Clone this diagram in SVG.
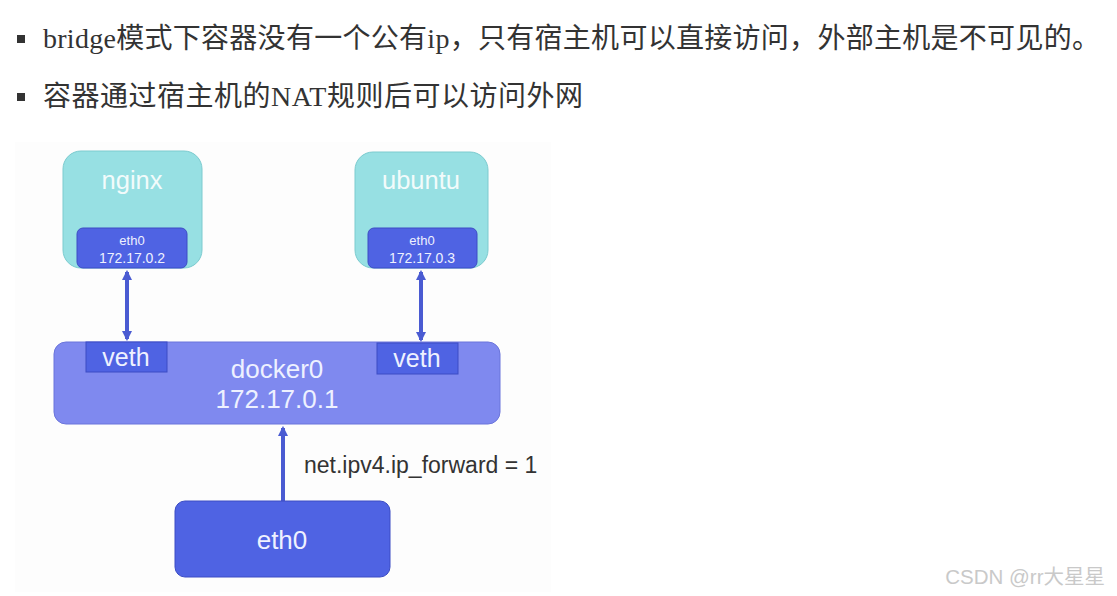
<svg xmlns="http://www.w3.org/2000/svg" width="1117" height="596" viewBox="0 0 1117 596">
<style>
.body{font-family:"Liberation Serif","Noto Sans CJK SC",serif;font-size:28px;fill:#333333}
.sans{font-family:"Liberation Sans",Arial,sans-serif}
.wt{fill:#f2fbfb}
.lab{fill:#eef1ff}
.blue{fill:#4f63e3;stroke:#3c4dc4;stroke-width:1}
.conn{stroke:#4a5bd2;stroke-width:4;fill:none}
</style>
<defs>
<marker id="ah" viewBox="0 0 10 10" refX="8" refY="5" markerWidth="2.6" markerHeight="2.6" orient="auto-start-reverse">
<path d="M0,0 L10,5 L0,10 z" fill="#4a5bd2"/>
</marker>
</defs>
<rect width="1117" height="596" fill="#ffffff"/>
<rect x="15" y="142" width="536" height="450" fill="#fdfdfd"/>
<g id="bullets">
<rect x="17" y="35" width="8" height="8" fill="#333333"/>
<rect x="17" y="93" width="8" height="8" fill="#333333"/>
<text class="body" x="43" y="48" textLength="1057">bridge模式下容器没有一个公有ip，只有宿主机可以直接访问，外部主机是不可见的。</text>
<text class="body" x="43" y="106" textLength="540">容器通过宿主机的NAT规则后可以访问外网</text>
</g>
<g id="connectors">
<line class="conn" x1="127" y1="272" x2="127" y2="339" marker-start="url(#ah)" marker-end="url(#ah)"/>
<line class="conn" x1="421" y1="272" x2="421" y2="340" marker-start="url(#ah)" marker-end="url(#ah)"/>
<line class="conn" x1="283" y1="501" x2="283" y2="428" marker-end="url(#ah)"/>
<text class="sans" x="304" y="473" font-size="23" fill="#333333">net.ipv4.ip_forward = 1</text>
</g>
<g id="nginx">
<rect x="63" y="151" width="139" height="117" rx="18" fill="#97e0e3" stroke="#7ccbcf" stroke-width="1"/>
<text class="sans wt" x="132" y="189" font-size="25.5" text-anchor="middle">nginx</text>
<rect class="blue" x="77" y="228" width="110" height="40" rx="6"/>
<text class="sans lab" x="132" y="245" font-size="13" text-anchor="middle">eth0</text>
<text class="sans lab" x="132" y="263" font-size="14" text-anchor="middle">172.17.0.2</text>
</g>
<g id="ubuntu">
<rect x="355" y="152" width="133" height="116" rx="18" fill="#97e0e3" stroke="#7ccbcf" stroke-width="1"/>
<text class="sans wt" x="421" y="189" font-size="25.5" text-anchor="middle">ubuntu</text>
<rect class="blue" x="368" y="228" width="109" height="40" rx="6"/>
<text class="sans lab" x="422" y="245" font-size="13" text-anchor="middle">eth0</text>
<text class="sans lab" x="422" y="263" font-size="14" text-anchor="middle">172.17.0.3</text>
</g>
<g id="docker0">
<rect x="54" y="342" width="446" height="82" rx="12" fill="#7f89ef" stroke="#6b75db" stroke-width="1"/>
<text class="sans lab" x="277" y="378" font-size="26" text-anchor="middle">docker0</text>
<text class="sans lab" x="277" y="408" font-size="26" text-anchor="middle">172.17.0.1</text>
</g>
<g id="veth-left">
<rect class="blue" x="86" y="342" width="81" height="30"/>
<text class="sans lab" x="126" y="366" font-size="25" text-anchor="middle">veth</text>
</g>
<g id="veth-right">
<rect class="blue" x="377" y="343" width="81" height="31"/>
<text class="sans lab" x="417" y="367" font-size="25" text-anchor="middle">veth</text>
</g>
<g id="eth0-host">
<rect class="blue" x="175" y="501" width="215" height="76" rx="10"/>
<text class="sans lab" x="282" y="549" font-size="26" text-anchor="middle">eth0</text>
</g>
<text x="1105" y="584" font-family="'Liberation Sans','Noto Sans CJK SC',sans-serif" font-size="20.5" fill="#c9c9c9" text-anchor="end">CSDN @rr大星星</text>
</svg>
